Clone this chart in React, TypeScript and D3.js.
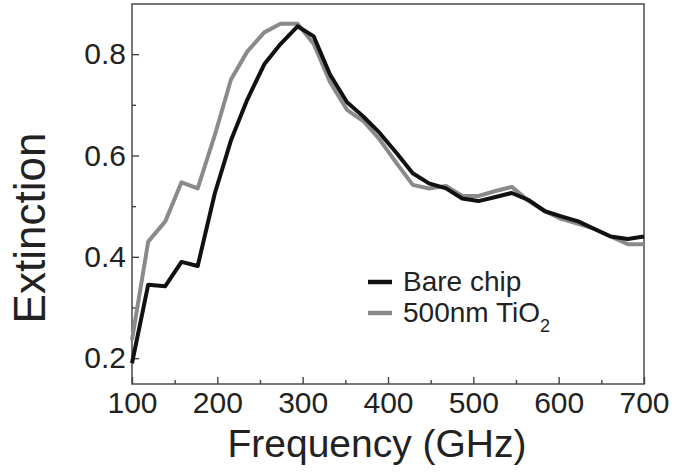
import React, { useRef, useEffect } from "react";
import * as d3 from "d3";

// frequency points (GHz)
const frequencies = [
  100, 119, 139, 158, 177, 197, 216, 235, 255, 274, 294, 313, 332, 352, 371, 390,
  410, 429, 448, 468, 487, 506, 526, 545, 565, 584, 603, 623, 642, 661, 681, 700,
];

// extinction, bare chip
const bareChip = [
  0.19, 0.345, 0.342, 0.39, 0.382, 0.525, 0.63, 0.71, 0.78, 0.82, 0.855, 0.835, 0.76,
  0.705, 0.677, 0.645, 0.605, 0.565, 0.545, 0.535, 0.515, 0.51, 0.518, 0.526, 0.512,
  0.49, 0.48, 0.47, 0.455, 0.44, 0.435, 0.44,
];

// extinction, 500nm TiO2
const tio2 = [
  0.236, 0.43, 0.47, 0.547, 0.535, 0.64, 0.75, 0.805, 0.843, 0.86, 0.86, 0.82, 0.745,
  0.69, 0.668, 0.632, 0.585, 0.542, 0.535, 0.54, 0.52, 0.52, 0.53, 0.538, 0.51, 0.49,
  0.475, 0.465, 0.455, 0.44, 0.425, 0.425,
];

const xTicks = [100, 200, 300, 400, 500, 600, 700];
const xMinorTicks = [150, 250, 350, 450, 550, 650];
const yTicks = [0.2, 0.4, 0.6, 0.8];
const yMinorTicks = [0.3, 0.5, 0.7];

const FONT = "'Liberation Sans', Arial, Helvetica, sans-serif";

const Chart = () => {
  const ref = useRef<SVGSVGElement | null>(null);

  useEffect(() => {
    const width = 691;
    const height = 472;
    const left = 132,
      right = 644,
      top = 4,
      bottom = 384;

    const svg = d3.select(ref.current).attr("width", width).attr("height", height);
    svg.selectAll("*").remove();

    const x = d3.scaleLinear().domain([100, 700]).range([left, right]);
    const y = d3.scaleLinear().domain([0.149, 0.899]).range([bottom, top]);

    // frame
    svg
      .append("rect")
      .attr("x", left)
      .attr("y", top)
      .attr("width", right - left)
      .attr("height", bottom - top)
      .attr("fill", "none")
      .attr("stroke", "#555")
      .attr("stroke-width", 1.6);

    // axes
    const styleAxis = (g: any) => {
      g.select(".domain").remove();
      g.selectAll(".tick line").attr("stroke", "#444").attr("stroke-width", 1.4);
      g.selectAll(".tick text")
        .attr("fill", "#222")
        .style("font-family", FONT)
        .style("font-size", "30px");
    };

    svg
      .append("g")
      .attr("transform", `translate(0,${bottom})`)
      .call(
        d3.axisBottom(x).tickValues(xTicks).tickSize(-7).tickPadding(8).tickFormat(d3.format("d"))
      )
      .call(styleAxis);

    svg
      .append("g")
      .attr("transform", `translate(0,${bottom})`)
      .call(d3.axisBottom(x).tickValues(xMinorTicks).tickSize(-4).tickFormat(() => ""))
      .call(styleAxis);

    svg
      .append("g")
      .attr("transform", `translate(${left},0)`)
      .call(
        d3.axisLeft(y).tickValues(yTicks).tickSize(-7).tickPadding(6).tickFormat(d3.format(".1f"))
      )
      .call(styleAxis);

    svg
      .append("g")
      .attr("transform", `translate(${left},0)`)
      .call(d3.axisLeft(y).tickValues(yMinorTicks).tickSize(-4).tickFormat(() => ""))
      .call(styleAxis);

    // lines
    const line = d3
      .line<number>()
      .x((_, i) => x(frequencies[i]))
      .y((d) => y(d));

    svg
      .append("path")
      .datum(tio2)
      .attr("d", line)
      .attr("fill", "none")
      .attr("stroke", "#8a8a8a")
      .attr("stroke-width", 4)
      .attr("stroke-linejoin", "round");

    svg
      .append("path")
      .datum(bareChip)
      .attr("d", line)
      .attr("fill", "none")
      .attr("stroke", "#111")
      .attr("stroke-width", 4)
      .attr("stroke-linejoin", "round");

    // axis titles
    svg
      .append("text")
      .attr("x", 377)
      .attr("y", 457)
      .attr("text-anchor", "middle")
      .attr("fill", "#222")
      .style("font-family", FONT)
      .style("font-size", "39px")
      .text("Frequency (GHz)");

    svg
      .append("text")
      .attr("transform", `translate(45,228) rotate(-90)`)
      .attr("text-anchor", "middle")
      .attr("fill", "#222")
      .style("font-family", FONT)
      .style("font-size", "44px")
      .text("Extinction");

    // legend
    const legend = svg.append("g");
    legend
      .append("line")
      .attr("x1", 368)
      .attr("x2", 392)
      .attr("y1", 282)
      .attr("y2", 282)
      .attr("stroke", "#111")
      .attr("stroke-width", 4.5);
    legend
      .append("line")
      .attr("x1", 368)
      .attr("x2", 392)
      .attr("y1", 313)
      .attr("y2", 313)
      .attr("stroke", "#8a8a8a")
      .attr("stroke-width", 4.5);
    legend
      .append("text")
      .attr("x", 403)
      .attr("y", 291)
      .attr("fill", "#222")
      .style("font-family", FONT)
      .style("font-size", "28px")
      .text("Bare chip");
    const t2 = legend
      .append("text")
      .attr("x", 403)
      .attr("y", 322)
      .attr("fill", "#222")
      .style("font-family", FONT)
      .style("font-size", "28px");
    t2.append("tspan").text("500nm TiO");
    t2.append("tspan").attr("dy", 10).style("font-size", "18px").text("2");
  }, []);

  return <svg ref={ref} style={{ position: "absolute", left: 0, top: 0 }} />;
};

export default function App() {
  return <Chart />;
}
